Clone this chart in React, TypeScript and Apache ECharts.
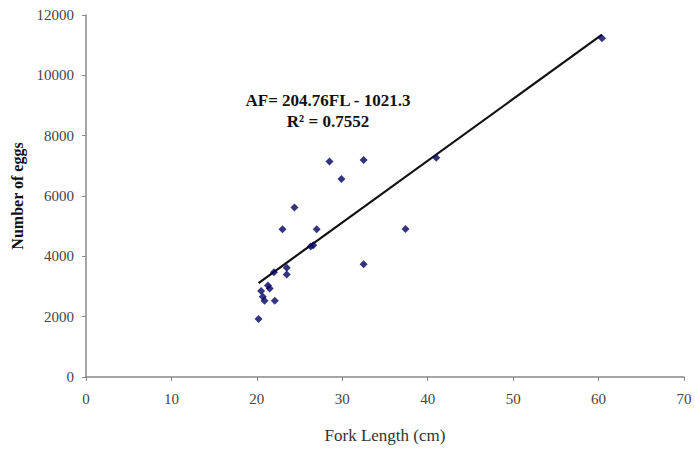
import React, { useEffect, useRef } from "react";
import * as echarts from "echarts";

const forkLength = [20.2, 20.5, 20.7, 20.9, 21.3, 21.5, 22.0, 22.1, 23.0, 23.5, 23.5, 24.4, 26.3, 26.6, 27.0, 28.5, 29.9, 32.5, 32.5, 37.4, 41.0, 60.4];
const eggs = [1920, 2850, 2660, 2530, 3030, 2930, 3470, 2530, 4900, 3620, 3400, 5620, 4330, 4370, 4900, 7140, 6560, 7190, 3740, 4910, 7270, 11230];
const slope = 204.76;
const intercept = -1021.3;
const xTicks = [0, 10, 20, 30, 40, 50, 60, 70];
const yTicks = [0, 2000, 4000, 6000, 8000, 10000, 12000];
const equationText = "AF= 204.76FL - 1021.3";
const r2Text = "R\u00b2 = 0.7552";

export default function App() {
  const ref = useRef<HTMLDivElement>(null);
  useEffect(() => {
    if (!ref.current) return;
    const chart = echarts.init(ref.current, undefined, { renderer: "svg" });
    const points = forkLength.map((x, i) => [x, eggs[i]]);
    const xMin = Math.min(...forkLength);
    const xMax = Math.max(...forkLength);
    const trend = [xMin, xMax].map((x) => [x, slope * x + intercept]);
    const font = "'Liberation Serif', 'Times New Roman', serif";
    chart.setOption({
      animation: false,
      backgroundColor: "#ffffff",
      grid: { left: 86, right: 11, top: 15, bottom: 74 },
      xAxis: {
        type: "value",
        min: xTicks[0],
        max: xTicks[xTicks.length - 1],
        interval: 10,
        name: "Fork Length (cm)",
        nameLocation: "middle",
        nameGap: 50,
        nameTextStyle: { fontFamily: font, fontSize: 17, color: "#333" },
        axisLine: { show: true, lineStyle: { color: "#888", width: 1.5 } },
        axisTick: { show: true, length: 4, lineStyle: { color: "#888" } },
        axisLabel: { fontFamily: font, fontSize: 15, color: "#444", margin: 14, formatter: (v: number) => String(v) },
        splitLine: { show: false },
      },
      yAxis: {
        type: "value",
        min: yTicks[0],
        max: yTicks[yTicks.length - 1],
        interval: 2000,
        name: "Number of eggs",
        nameLocation: "middle",
        nameGap: 60,
        nameTextStyle: { fontFamily: font, fontSize: 16, fontWeight: "bold", color: "#111" },
        axisLine: { show: true, lineStyle: { color: "#888", width: 1.5 } },
        axisTick: { show: true, length: 4, lineStyle: { color: "#888" } },
        axisLabel: { fontFamily: font, fontSize: 15, color: "#444", margin: 12, formatter: (v: number) => String(v) },
        splitLine: { show: false },
      },
      series: [
        {
          type: "line",
          data: trend,
          symbol: "none",
          lineStyle: { color: "#111", width: 2.2 },
          z: 2,
        },
        {
          type: "scatter",
          data: points,
          symbol: "diamond",
          symbolSize: 8,
          itemStyle: { color: "#000060" },
          z: 3,
        },
      ],
      graphic: [
        {
          type: "text",
          x: 328,
          y: 100,
          style: {
            text: equationText,
            fontFamily: font,
            fontSize: 17,
            fontWeight: "bold",
            fill: "#111",
            align: "center",
            verticalAlign: "middle",
          },
        },
        {
          type: "text",
          x: 328,
          y: 121,
          style: {
            text: r2Text,
            fontFamily: font,
            fontSize: 17,
            fontWeight: "bold",
            fill: "#111",
            align: "center",
            verticalAlign: "middle",
          },
        },
      ],
    });
    return () => chart.dispose();
  }, []);
  return <div ref={ref} style={{ width: 695, height: 451, position: "absolute", left: 0, top: 0 }} />;
}
